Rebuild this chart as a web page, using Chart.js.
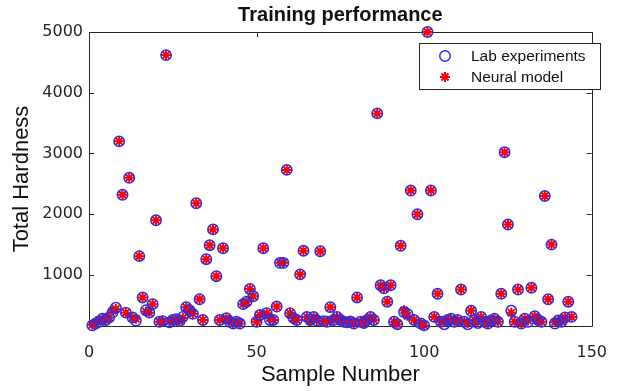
<!DOCTYPE html>
<html>
<head>
<meta charset="utf-8">
<script src="https://cdn.jsdelivr.net/npm/chart.js@4.4.1/dist/chart.umd.min.js"></script>
<style>
  html, body { margin: 0; padding: 0; background: #ffffff; }
  #c { display: block; }
</style>
</head>
<body>
<canvas id="c" width="624" height="391"></canvas>
<script>
// ---- data ----
const chartTitle = 'Training performance';
const xAxisTitle = 'Sample Number';
const yAxisTitle = 'Total Hardness';
const seriesNames = ['Lab experiments', 'Neural model'];
const xTickValues = [0, 50, 100, 150];
const yTickValues = [1000, 2000, 3000, 4000, 5000];

// Lab experiment values, sample 1..144
const labExperiments = [
  170, 200, 230, 280, 260, 300, 380, 460, 3200, 2320,
  380, 2600, 300, 250, 1310, 630, 420, 380, 520, 1900,
  230, 240, 4620, 220, 260, 270, 240, 310, 470, 420,
  360, 2180, 600, 260, 1260, 1490, 1750, 980, 260, 1440,
  290, 230, 200, 230, 200, 520, 560, 770, 650, 230,
  340, 1440, 370, 260, 260, 480, 1200, 1200, 2730, 370,
  290, 260, 1010, 1400, 310, 260, 310, 250, 1390, 240,
  230, 470, 260, 310, 260, 230, 220, 230, 200, 630,
  230, 210, 260, 310, 260, 3660, 830, 780, 560, 830,
  230, 190, 1480, 390, 360, 2390, 260, 2000, 200, 170,
  5000, 2390, 310, 690, 230, 190, 260, 280, 230, 260,
  760, 230, 190, 410, 260, 210, 310, 230, 200, 250,
  280, 230, 690, 3020, 1830, 410, 230, 760, 200, 280,
  230, 790, 320, 260, 230, 2300, 600, 1500, 200, 250,
  230, 300, 560, 310
];

// Neural model predictions, sample 1..144
const neuralModel = [
  180, 200, 260, 280, 260, 300, 410, 440, 3200, 2320,
  380, 2600, 300, 280, 1310, 630, 400, 380, 520, 1900,
  230, 240, 4620, 240, 260, 270, 240, 290, 470, 420,
  360, 2180, 600, 260, 1260, 1490, 1750, 980, 260, 1440,
  290, 250, 200, 230, 200, 520, 560, 770, 650, 230,
  340, 1440, 370, 290, 260, 480, 1200, 1200, 2730, 370,
  290, 260, 1010, 1400, 310, 240, 310, 250, 1390, 240,
  230, 470, 260, 310, 260, 230, 220, 250, 200, 630,
  230, 210, 260, 310, 260, 3660, 830, 780, 560, 830,
  230, 190, 1480, 420, 330, 2390, 260, 2000, 200, 170,
  5000, 2390, 310, 690, 230, 220, 260, 280, 230, 260,
  760, 230, 210, 410, 260, 230, 310, 230, 200, 250,
  280, 230, 690, 3020, 1830, 380, 230, 760, 200, 280,
  250, 790, 320, 260, 230, 2300, 600, 1500, 220, 250,
  230, 300, 560, 310
];

const labPoints = labExperiments.map((v, i) => ({ x: i + 1, y: v }));
const neuralPoints = neuralModel.map((v, i) => ({ x: i + 1, y: v }));

const AXIS_COLOR = '#262626';
const BLUE = 'rgb(45,45,225)';
const RED = 'rgb(255,0,0)';

// frame (box) and inward ticks, MATLAB style
const framePlugin = {
  id: 'frame',
  beforeDatasetsDraw(chart) {
    const { ctx, chartArea: a, scales: { x, y } } = chart;
    ctx.save();
    ctx.strokeStyle = AXIS_COLOR;
    ctx.lineWidth = 1;
    ctx.beginPath();
    ctx.rect(Math.round(a.left) + 0.5, Math.round(a.top) + 0.5,
             Math.round(a.right) - Math.round(a.left), Math.round(a.bottom) - Math.round(a.top));
    const tl = 5;
    xTickValues.forEach(v => {
      const px = Math.round(x.getPixelForValue(v)) + 0.5;
      ctx.moveTo(px, a.bottom); ctx.lineTo(px, a.bottom - tl);
      ctx.moveTo(px, a.top); ctx.lineTo(px, a.top + tl);
    });
    yTickValues.forEach(v => {
      const py = Math.round(y.getPixelForValue(v)) + 0.5;
      ctx.moveTo(a.left, py); ctx.lineTo(a.left + tl, py);
      ctx.moveTo(a.right, py); ctx.lineTo(a.right - tl, py);
    });
    ctx.stroke();
    ctx.restore();
  }
};

// legend box inside the axes, top-right
const legendPlugin = {
  id: 'boxLegend',
  afterDatasetsDraw(chart) {
    const { ctx } = chart;
    const box = { left: 419, top: 43, right: 600, bottom: 89 };
    ctx.save();
    ctx.fillStyle = '#ffffff';
    ctx.fillRect(box.left, box.top, box.right - box.left, box.bottom - box.top);
    ctx.strokeStyle = AXIS_COLOR;
    ctx.lineWidth = 1;
    ctx.strokeRect(box.left + 0.5, box.top + 0.5, box.right - box.left, box.bottom - box.top);
    const rows = [56, 77];
    chart.data.datasets.forEach((ds, i) => {
      ctx.save();
      ctx.strokeStyle = ds.borderColor;
      ctx.fillStyle = 'rgba(0,0,0,0)';
      ctx.lineWidth = ds.borderWidth;
      Chart.helpers.drawPoint(ctx, { pointStyle: ds.pointStyle, radius: ds.pointRadius, borderWidth: ds.borderWidth, rotation: 0 }, 445, rows[i]);
      ctx.restore();
      ctx.fillStyle = '#111111';
      ctx.font = '15.5px "Liberation Sans", Arial, sans-serif';
      ctx.textAlign = 'left';
      ctx.textBaseline = 'middle';
      ctx.fillText(ds.label, 471, rows[i] + 1);
    });
    ctx.restore();
  }
};

new Chart(document.getElementById('c'), {
  type: 'scatter',
  data: {
    datasets: [
      {
        label: seriesNames[0],
        data: labPoints,
        pointStyle: 'circle',
        pointRadius: 5.2,
        borderWidth: 1.5,
        borderColor: BLUE,
        backgroundColor: 'rgba(0,0,0,0)',
        clip: false
      },
      {
        label: seriesNames[1],
        data: neuralPoints,
        pointStyle: 'star',
        pointRadius: 5,
        borderWidth: 2,
        borderColor: RED,
        backgroundColor: RED,
        clip: false
      }
    ]
  },
  options: {
    responsive: false,
    animation: false,
    events: [],
    layout: { padding: { left: 0, right: 22, top: 0, bottom: 0 } },
    plugins: {
      legend: { display: false },
      tooltip: { enabled: false },
      title: {
        display: true,
        text: chartTitle,
        fullSize: false,
        color: '#111111',
        font: { family: '"Liberation Sans", Arial, sans-serif', size: 20, weight: 'bold', lineHeight: 1.2 },
        padding: { top: 3, bottom: 5 }
      }
    },
    scales: {
      x: {
        type: 'linear',
        min: 0,
        max: 150,
        grid: { display: false, drawTicks: false },
        border: { display: false },
        ticks: {
          stepSize: 50,
          padding: 17,
          color: AXIS_COLOR,
          font: { family: '"DejaVu Sans", sans-serif', size: 16 },
          maxRotation: 0,
          callback: (v) => String(v)
        },
        afterBuildTicks: (s) => { s.ticks = xTickValues.map(v => ({ value: v })); },
        afterFit: (s) => { s.height = 65; },
        title: {
          display: true,
          text: xAxisTitle,
          color: '#111111',
          font: { family: '"Liberation Sans", Arial, sans-serif', size: 22, lineHeight: 1.2 },
          padding: { top: 0, bottom: 3 }
        }
      },
      y: {
        type: 'linear',
        min: 160,
        max: 5000,
        grid: { display: false, drawTicks: false },
        border: { display: false },
        ticks: {
          padding: 6,
          color: AXIS_COLOR,
          font: { family: '"DejaVu Sans", sans-serif', size: 16 },
          callback: (v) => String(v)
        },
        afterBuildTicks: (s) => { s.ticks = yTickValues.map(v => ({ value: v })); },
        afterFit: (s) => { s.width = 89; },
        title: {
          display: true,
          text: yAxisTitle,
          color: '#111111',
          font: { family: '"Liberation Sans", Arial, sans-serif', size: 22, lineHeight: 1.2 },
          padding: { top: 9, bottom: 0 }
        }
      }
    }
  },
  plugins: [framePlugin, legendPlugin]
});
</script>
</body>
</html>
